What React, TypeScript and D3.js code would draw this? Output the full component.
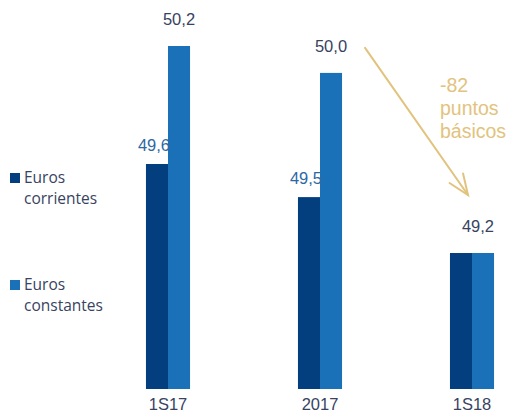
import React from "react";
import * as d3 from "d3";

const categories = ["1S17", "2017", "1S18"];
const seriesNames = ["Euros corrientes", "Euros constantes"];
const corrientes = [49.63, 49.47, 49.2];
const constantes = [50.2, 50.07, 49.2];
const corrientesLabels = ["49,6", "49,5", ""];
const constantesLabels = ["50,2", "50,0", "49,2"];
const annotationLines = ["-82", "puntos", "básicos"];
const baseValue = 48.543;

const W = 513;
const H = 415;
const DARK = "#033f7e";
const LIGHT = "#1b71b7";
const TEXT_DARK = "#38435f";
const TEXT_BLUE = "#2d68a4";
const GOLD = "#e2c37e";

export default function App() {
  const x0 = d3
    .scaleBand<string>()
    .domain(categories)
    .range([92, 548])
    .paddingInner(0.71)
    .paddingOuter(0.355);
  const x1 = d3
    .scaleBand<string>()
    .domain(seriesNames)
    .range([0, x0.bandwidth()]);
  const y = d3.scaleLinear().domain([baseValue, 50.2]).range([389, 46]);

  const series = [
    { name: seriesNames[0], values: corrientes, labels: corrientesLabels, color: DARK },
    { name: seriesNames[1], values: constantes, labels: constantesLabels, color: LIGHT },
  ];

  // arrow from 2017 to 1S18
  const ax1 = (x0("2017") as number) + x0.bandwidth() + 23;
  const ay1 = y(constantes[1]) - 25;
  const ax2 = (x0("1S18") as number) + x0.bandwidth() / 2 - 4;
  const ay2 = y(constantes[2]) - 58;
  const ang = Math.atan2(ay2 - ay1, ax2 - ax1);
  const headLen = 22;
  const spread = (22 * Math.PI) / 180;
  const wing = (s: number) => [
    ax2 - headLen * Math.cos(ang + s),
    ay2 - headLen * Math.sin(ang + s),
  ];
  const [w1x, w1y] = wing(spread);
  const [w2x, w2y] = wing(-spread);

  const legendItems = [
    { color: DARK, lines: ["Euros", "corrientes"], y: 173 },
    { color: LIGHT, lines: ["Euros", "constantes"], y: 280 },
  ];

  return (
    <svg
      width={W}
      height={H}
      style={{ position: "absolute", left: 0, top: 0, background: "#fff" }}
    >
      {categories.map((c, i) => (
        <g key={c} transform={`translate(${x0(c)},0)`}>
          {series.map((s) => (
            <rect
              key={s.name}
              x={x1(s.name)}
              y={y(s.values[i])}
              width={x1.bandwidth()}
              height={y(baseValue) - y(s.values[i])}
              fill={s.color}
            />
          ))}
          <text
            x={x0.bandwidth() / 2}
            y={410}
            textAnchor="middle"
            fontFamily="Liberation Sans, Arial, sans-serif"
            fontSize={16.5}
            fill={TEXT_DARK}
          >
            {c}
          </text>
        </g>
      ))}
      {/* value labels */}
      {categories.map((c, i) => (
        <g key={c + "-lab"} transform={`translate(${x0(c)},0)`}>
          {corrientesLabels[i] && (
            <text
              x={(x1(seriesNames[0]) as number) + x1.bandwidth() + 2}
              y={y(corrientes[i]) - 13}
              textAnchor="end"
              fontFamily="Liberation Sans, Arial, sans-serif"
              fontSize={16.5}
              fill={TEXT_BLUE}
            >
              {corrientesLabels[i]}
            </text>
          )}
          {constantesLabels[i] && (
            <text
              x={
                i === 2
                  ? x0.bandwidth() / 2 + 6
                  : (x1(seriesNames[1]) as number) + x1.bandwidth() / 2
              }
              y={y(constantes[i]) - 21}
              textAnchor="middle"
              fontFamily="Liberation Sans, Arial, sans-serif"
              fontSize={16.5}
              fill={TEXT_DARK}
            >
              {constantesLabels[i]}
            </text>
          )}
        </g>
      ))}
      {/* arrow */}
      <g stroke={GOLD} strokeWidth={2} fill="none" strokeLinecap="round">
        <line x1={ax1} y1={ay1} x2={ax2} y2={ay2} />
        <polyline points={`${w1x},${w1y} ${ax2},${ay2} ${w2x},${w2y}`} />
      </g>
      <text
        fontFamily="Liberation Sans, Arial, sans-serif"
        fontSize={19.5}
        fill={GOLD}
      >
        {annotationLines.map((t, i) => (
          <tspan key={t} x={440} y={92 + i * 23}>
            {t}
          </tspan>
        ))}
      </text>
      {/* legend */}
      {legendItems.map((l) => (
        <g key={l.lines[1]}>
          <rect x={10} y={l.y} width={10} height={10} fill={l.color} />
          <text
            fontFamily="Open Sans, Noto Sans, sans-serif"
            fontSize={15.5}
            fill={TEXT_DARK}
          >
            {l.lines.map((t, j) => (
              <tspan key={t} x={24} y={l.y + 10 + j * 21}>
                {t}
              </tspan>
            ))}
          </text>
        </g>
      ))}
    </svg>
  );
}
